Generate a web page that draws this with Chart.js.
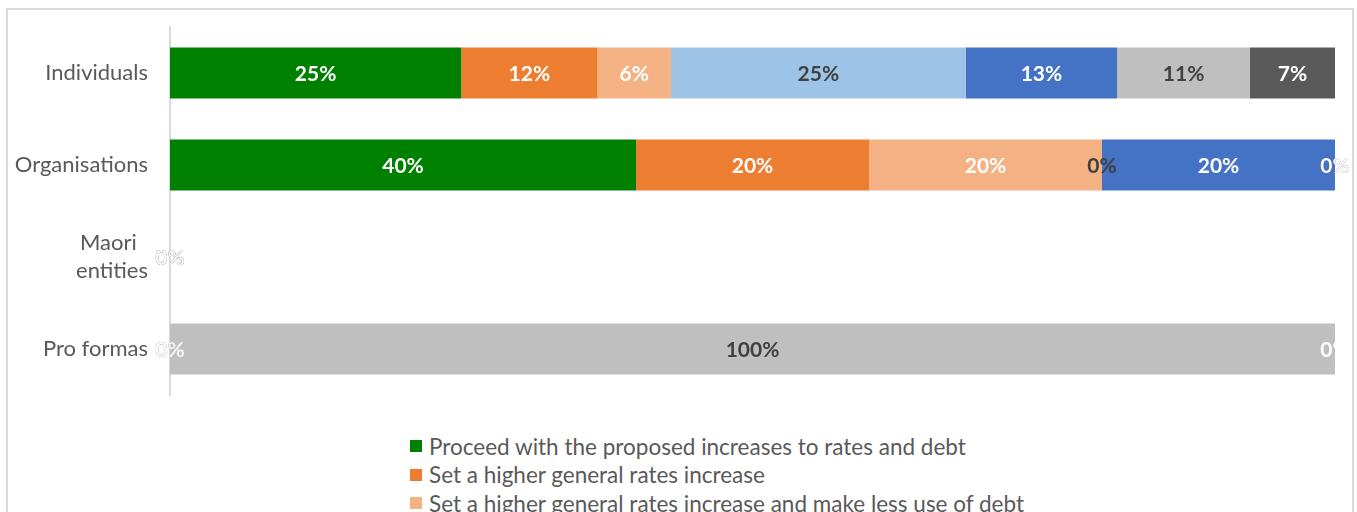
<!DOCTYPE html>
<html>
<head>
<meta charset="utf-8">
<script src="https://cdn.jsdelivr.net/npm/chart.js@4/dist/chart.umd.min.js"></script>
<style>
  html, body {
    margin: 0;
    padding: 0;
    width: 1357px;
    height: 512px;
    overflow: hidden;
    background: #fff;
    font-family: Lato, sans-serif;
  }
  .frame {
    position: absolute;
    left: 6px;
    top: 8px;
    width: 1344px;
    height: 620px;
    border: 2px solid #d9d9d9;
  }
  .chart-box {
    position: absolute;
    left: 0;
    top: 0;
    width: 1344px;
    height: 392px;
  }
  #legend {
    position: absolute;
    left: 402px;
    top: 422px;
    margin: 0;
    padding: 0;
    list-style: none;
  }
  #legend li {
    height: 28.5px;
    display: flex;
    align-items: center;
    color: #595959;
    font-size: 22.5px;
    white-space: nowrap;
  }
  #legend .swatch {
    width: 12px;
    height: 12px;
    margin-right: 7px;
    flex: none;
  }
</style>
</head>
<body>
<div class="frame">
  <div class="chart-box"><canvas id="bars"></canvas></div>
  <ul id="legend"></ul>
</div>

<script>
// categories (trailing spaces keep "Maori" centred over "entities")
const groups = ['Individuals', 'Organisations', ['Maori  ', 'entities'], 'Pro formas'];

// series names (only the first three are readable, the rest sit below the crop)
const options = [
  'Proceed with the proposed increases to rates and debt',
  'Set a higher general rates increase',
  'Set a higher general rates increase and make less use of debt',
  'Set a lower general rates increase and make more use of debt',
  'Reduce spending and keep rates lower',
  'Other',
  'Don\'t know'
];

// percentages per series, in the order of groups
const proceed      = [25.0, 40, 0, 0];
const higherRates  = [11.7, 20, 0, 0];
const higherLess   = [6.3, 20, 0, 0];
const lowerMore    = [25.3, 0, 0, 0];
const reduceSpend  = [13.0, 20, 0, 0];
const other        = [11.4, 0, 0, 100];
const dontKnow     = [7.3, 0, 0, 0];

const series = [proceed, higherRates, higherLess, lowerMore, reduceSpend, other, dontKnow];
const fills = ['#008000', '#ED7D31', '#F4B183', '#9DC3E6', '#4472C4', '#BFBFBF', '#595959'];
const labelInk = ['#ffffff', '#ffffff', '#ffffff', '#404040', '#ffffff', '#404040', '#ffffff'];

const datasets = series.map((vals, i) => ({
  label: options[i],
  data: vals,
  backgroundColor: fills[i],
  borderWidth: 0,
  categoryPercentage: 1,
  barPercentage: 0.555
}));

// draws the % inside each segment, later series on top like Excel does
const segmentLabels = {
  id: 'segmentLabels',
  afterDatasetsDraw(chart) {
    const ctx = chart.ctx;
    ctx.save();
    ctx.font = 'bold 21px Lato, sans-serif';
    ctx.textAlign = 'center';
    ctx.textBaseline = 'middle';
    chart.data.datasets.forEach((ds, i) => {
      const meta = chart.getDatasetMeta(i);
      meta.data.forEach((bar, j) => {
        const p = bar.getCenterPoint();
        ctx.fillStyle = labelInk[i];
        ctx.fillText(Math.round(ds.data[j]) + '%', p.x, p.y + 1);
      });
    });
    ctx.restore();
  }
};

const chart = new Chart(document.getElementById('bars'), {
  type: 'bar',
  data: { labels: groups, datasets: datasets },
  plugins: [segmentLabels],
  options: {
    indexAxis: 'y',
    responsive: true,
    maintainAspectRatio: false,
    animation: false,
    layout: { padding: { top: 17, right: 17, bottom: 7, left: 0 } },
    plugins: {
      legend: { display: false },
      tooltip: { enabled: false }
    },
    scales: {
      x: {
        stacked: true,
        min: 0,
        max: 100,
        display: false
      },
      y: {
        stacked: true,
        grid: { display: false, drawTicks: false },
        border: { display: true, color: '#d9d9d9', width: 2 },
        ticks: {
          color: '#595959',
          padding: 22,
          font: { family: 'Lato, sans-serif', size: 22, lineHeight: 1.3 }
        },
        afterFit(scale) {
          scale.width = 162;
          scale.paddingTop = 0;
          scale.paddingBottom = 0;
        }
      }
    }
  }
});

// legend list under the plot, one entry per line
const legend = document.getElementById('legend');
chart.data.datasets.forEach(ds => {
  const li = document.createElement('li');
  const sw = document.createElement('span');
  sw.className = 'swatch';
  sw.style.background = ds.backgroundColor;
  li.appendChild(sw);
  li.appendChild(document.createTextNode(ds.label));
  legend.appendChild(li);
});
</script>
</body>
</html>
